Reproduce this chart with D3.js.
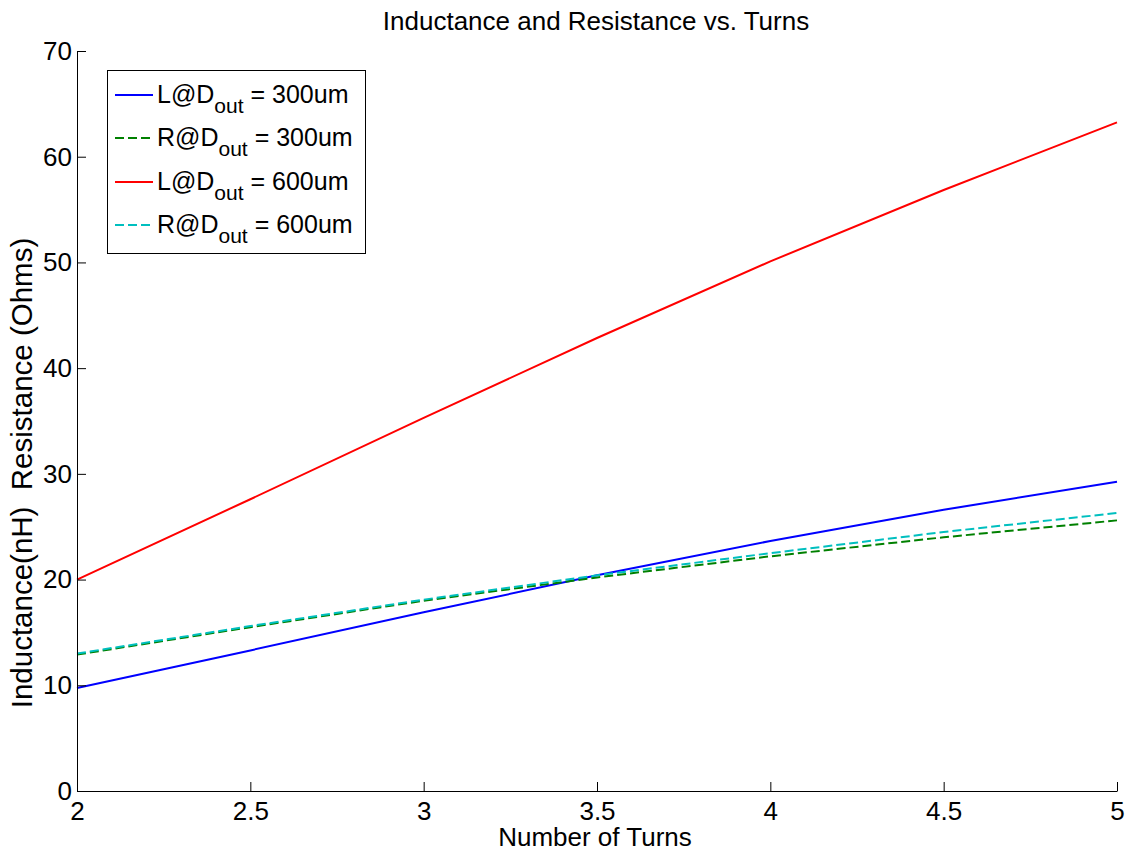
<!DOCTYPE html>
<html>
<head>
<meta charset="utf-8">
<script src="https://cdn.jsdelivr.net/npm/d3@7"></script>
<style>
  html, body { margin: 0; padding: 0; background: #fff; }
  svg { display: block; font-family: "Liberation Sans", Arial, sans-serif; }
</style>
</head>
<body>
<svg id="chart" width="1128" height="852"></svg>
<script>
// Number of turns (x axis samples)
const turns = [2, 2.5, 3, 3.5, 4, 4.5, 5];

// Inductance (nH) and resistance (Ohms) for the two outer diameters
const L300 = [9.75, 13.3, 16.9, 20.4, 23.65, 26.6, 29.25];
const R300 = [12.9, 15.5, 18.0, 20.2, 22.2, 24.0, 25.6];
const L600 = [20.0, 27.6, 35.3, 42.85, 50.1, 56.85, 63.25];
const R600 = [13.0, 15.6, 18.1, 20.4, 22.5, 24.5, 26.3];

const xTicks = [2, 2.5, 3, 3.5, 4, 4.5, 5];
const yTicks = [0, 10, 20, 30, 40, 50, 60, 70];

const seriesNames = ["L", "R", "L", "R"];
const seriesDiam = ["300um", "300um", "600um", "600um"];
const seriesColors = ["#0000ff", "#008000", "#ff0000", "#00bfbf"];
const seriesDashed = [false, true, false, true];
const seriesValues = [L300, R300, L600, R600];

const svg = d3.select("#chart");
svg.append("rect").attr("width", 1128).attr("height", 852).attr("fill", "#fff");

const plotLeft = 77, plotRight = 1117, plotTop = 51, plotBottom = 791;
const x = d3.scaleLinear().domain([2, 5]).range([plotLeft, plotRight]);
const y = d3.scaleLinear().domain([0, 70]).range([plotBottom, plotTop]);

// Series lines
const line = d3.line().x((d, i) => x(turns[i])).y(d => y(d));
seriesValues.forEach((vals, k) => {
  svg.append("path")
    .datum(vals)
    .attr("d", line)
    .attr("fill", "none")
    .attr("stroke", seriesColors[k])
    .attr("stroke-width", 2)
    .attr("stroke-dasharray", seriesDashed[k] ? "9,4" : null);
});

// Axes with inward ticks
const xAxis = d3.axisBottom(x).tickValues(xTicks).tickSizeInner(-9).tickSizeOuter(0)
  .tickFormat(d3.format("~g")).tickPadding(14);
const yAxis = d3.axisLeft(y).tickValues(yTicks).tickSizeInner(-9).tickSizeOuter(0)
  .tickFormat(d3.format("d")).tickPadding(14);

const gx = svg.append("g").attr("transform", `translate(0,${plotBottom})`).call(xAxis);
const gy = svg.append("g").attr("transform", `translate(${plotLeft},0)`).call(yAxis);
[gx, gy].forEach(g => {
  g.select(".domain").attr("stroke", "#000").attr("stroke-width", 1);
  g.selectAll(".tick line").attr("stroke", "#000").attr("stroke-width", 1);
  g.selectAll(".tick text").attr("fill", "#000").attr("font-size", 26)
    .attr("font-family", "'Liberation Sans', Arial, sans-serif");
});
gy.selectAll(".tick text").attr("x", -5);
gx.selectAll(".tick text").attr("dy", null).attr("y", 29);

// Titles
svg.append("text").attr("x", 596).attr("y", 30).attr("text-anchor", "middle")
  .attr("font-size", 26).text("Inductance and Resistance vs. Turns");
svg.append("text").attr("x", 595).attr("y", 846).attr("text-anchor", "middle")
  .attr("font-size", 26).text("Number of Turns");
svg.append("text").attr("transform", "translate(32,473) rotate(-90)")
  .attr("text-anchor", "middle").attr("font-size", 29.5)
  .style("white-space", "pre")
  .text("Inductance(nH)  Resistance (Ohms)");

// Legend
const lg = svg.append("g");
lg.append("rect").attr("x", 107.5).attr("y", 70.5).attr("width", 258).attr("height", 183)
  .attr("fill", "#fff").attr("stroke", "#000").attr("stroke-width", 1);
const rowY = [95, 138, 182, 225];
seriesNames.forEach((nm, k) => {
  lg.append("line").attr("x1", 115).attr("x2", 153).attr("y1", rowY[k]).attr("y2", rowY[k])
    .attr("stroke", seriesColors[k]).attr("stroke-width", 2)
    .attr("stroke-dasharray", seriesDashed[k] ? "9,4" : null);
  const t = lg.append("text").attr("x", 157).attr("y", rowY[k] + 8).attr("font-size", 25);
  t.append("tspan").text(nm + "@D");
  t.append("tspan").attr("dy", 10).attr("font-size", 21).text("out");
  t.append("tspan").attr("dy", -10).text(" = " + seriesDiam[k]);
});
</script>
</body>
</html>
